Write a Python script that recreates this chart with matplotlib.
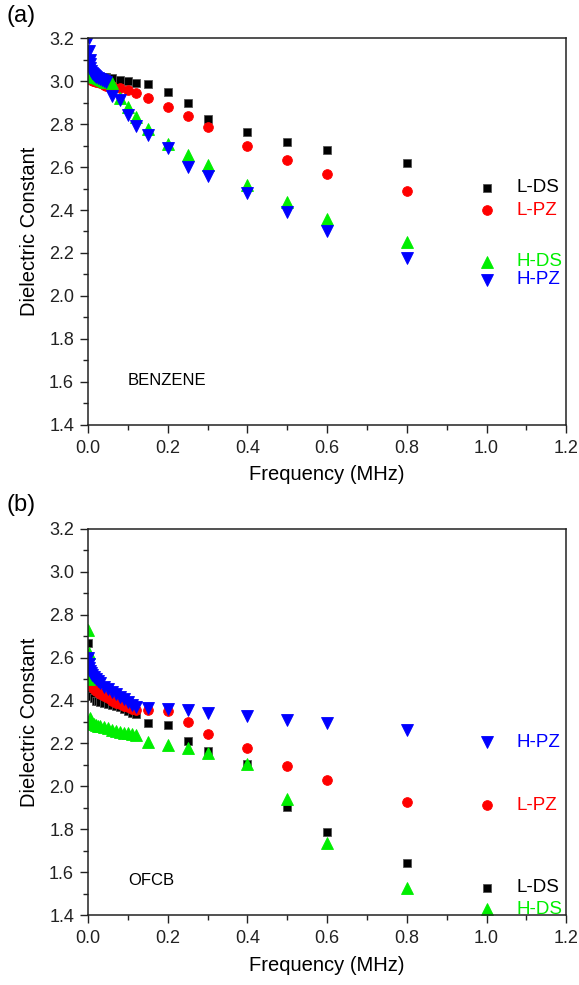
import matplotlib
matplotlib.use("Agg")
import matplotlib.pyplot as plt
from matplotlib.ticker import MultipleLocator

plt.rcParams['font.family'] = ['Liberation Sans', 'DejaVu Sans']

# ---------------- data: panel (a) BENZENE ----------------
f_low = [0.001, 0.002, 0.003, 0.004, 0.005, 0.006, 0.008, 0.010, 0.012, 0.015,
         0.018, 0.020, 0.025, 0.030, 0.035, 0.040, 0.045]
f_high = [0.06, 0.08, 0.10, 0.12, 0.15, 0.20, 0.25, 0.30, 0.40, 0.50, 0.60, 0.80, 1.00]

a_LDS_low = [3.05, 3.045, 3.04, 3.04, 3.035, 3.035, 3.03, 3.03, 3.03, 3.025,
             3.025, 3.025, 3.02, 3.02, 3.02, 3.02, 3.02]
a_LDS = [3.015, 3.008, 3.00, 2.994, 2.986, 2.95, 2.90, 2.823, 2.766, 2.717, 2.679, 2.617, 2.505]

a_LPZ_low = [3.02, 3.015, 3.015, 3.01, 3.01, 3.01, 3.005, 3.005, 3.00, 3.00,
             3.00, 2.995, 2.995, 2.99, 2.99, 2.985, 2.98]
a_LPZ = [2.98, 2.97, 2.958, 2.946, 2.92, 2.882, 2.836, 2.786, 2.70, 2.634, 2.567, 2.49, 2.40]

a_HDS_low = [3.10, 3.07, 3.06, 3.05, 3.045, 3.04, 3.035, 3.03, 3.03, 3.025,
             3.02, 3.02, 3.015, 3.01, 3.005, 3.00, 2.995]
a_HDS = [2.99, 2.92, 2.878, 2.834, 2.78, 2.71, 2.656, 2.61, 2.516, 2.436, 2.358, 2.253, 2.16]

a_HPZ_low = [3.30, 3.20, 3.14, 3.10, 3.08, 3.06, 3.05, 3.04, 3.035, 3.03,
             3.025, 3.02, 3.015, 3.01, 3.005, 3.00, 2.995]
a_HPZ = [2.93, 2.912, 2.842, 2.79, 2.749, 2.687, 2.601, 2.56, 2.478, 2.392, 2.30, 2.178, 2.075]

# ---------------- data: panel (b) OFCB ----------------
b_f = [0.001, 0.002, 0.003, 0.005, 0.008, 0.010, 0.015, 0.020, 0.025, 0.030,
       0.040, 0.050, 0.060, 0.070, 0.080, 0.090, 0.10, 0.11, 0.12,
       0.15, 0.20, 0.25, 0.30, 0.40, 0.50, 0.60, 0.80, 1.00]

b_LDS = [2.67, 2.45, 2.44, 2.43, 2.42, 2.42, 2.41, 2.40, 2.40, 2.395,
         2.39, 2.385, 2.38, 2.375, 2.37, 2.36, 2.353, 2.34, 2.335,
         2.294, 2.284, 2.21, 2.167, 2.106, 1.904, 1.785, 1.645, 1.527]

b_LPZ = [2.50, 2.50, 2.49, 2.48, 2.47, 2.465, 2.455, 2.445, 2.44, 2.43,
         2.42, 2.41, 2.40, 2.39, 2.385, 2.375, 2.37, 2.36, 2.355,
         2.357, 2.353, 2.30, 2.245, 2.178, 2.097, 2.03, 1.927, 1.912]

b_HDS = [2.73, 2.62, 2.50, 2.32, 2.30, 2.295, 2.29, 2.285, 2.28, 2.28,
         2.275, 2.27, 2.265, 2.26, 2.255, 2.25, 2.25, 2.245, 2.24,
         2.205, 2.195, 2.18, 2.155, 2.102, 1.94, 1.736, 1.525, 1.427]

b_HPZ = [2.60, 2.57, 2.55, 2.54, 2.53, 2.52, 2.51, 2.50, 2.49, 2.48,
         2.465, 2.455, 2.44, 2.43, 2.415, 2.405, 2.392, 2.38, 2.372,
         2.366, 2.36, 2.357, 2.343, 2.326, 2.31, 2.294, 2.264, 2.206]

series_names = ['L-DS', 'L-PZ', 'H-DS', 'H-PZ']
colors = {'L-DS': 'black', 'L-PZ': '#ff0000', 'H-DS': '#00ee00', 'H-PZ': '#0000ff'}
markers = {'L-DS': 's', 'L-PZ': 'o', 'H-DS': '^', 'H-PZ': 'v'}
msizes = {'L-DS': 5.5, 'L-PZ': 7.0, 'H-DS': 8.0, 'H-PZ': 8.0}

fig = plt.figure(figsize=(5.79, 9.85), dpi=100)
ax1 = fig.add_axes([0.152, 0.569, 0.826, 0.392])
ax2 = fig.add_axes([0.152, 0.071, 0.826, 0.392])

def style_axes(ax):
    ax.set_xlim(0, 1.2)
    ax.set_ylim(1.4, 3.2)
    ax.xaxis.set_major_locator(MultipleLocator(0.2))
    ax.xaxis.set_minor_locator(MultipleLocator(0.1))
    ax.yaxis.set_major_locator(MultipleLocator(0.2))
    ax.yaxis.set_minor_locator(MultipleLocator(0.1))
    ax.xaxis.set_major_formatter(plt.FuncFormatter(lambda v, p: f"{v:.1f}"))
    ax.yaxis.set_major_formatter(plt.FuncFormatter(lambda v, p: f"{v:.1f}"))
    ax.tick_params(which='major', direction='out', length=6, width=1.0, labelsize=13,
                   top=False, right=False, colors='#222222', pad=4)
    ax.tick_params(which='minor', direction='out', length=3.5, width=1.0,
                   top=False, right=False, colors='#222222')
    ax.tick_params(axis='x', which='major', pad=5)
    for s in ax.spines.values():
        s.set_linewidth(1.1)
        s.set_color('#222222')
    ax.set_xlabel('Frequency (MHz)', fontsize=14.5, labelpad=6)
    ax.set_ylabel('Dielectric Constant', fontsize=14.5, labelpad=7)

def draw(ax, x, y, name):
    ec = '#555555' if name == 'L-DS' else colors[name]
    ax.plot(x, y, linestyle='none', marker=markers[name], ms=msizes[name],
            color=colors[name], mec=ec, mew=0.6, clip_on=True)

# panel (a)
a_low = {'L-DS': a_LDS_low, 'L-PZ': a_LPZ_low, 'H-DS': a_HDS_low, 'H-PZ': a_HPZ_low}
a_hi = {'L-DS': a_LDS, 'L-PZ': a_LPZ, 'H-DS': a_HDS, 'H-PZ': a_HPZ}
for name in series_names:
    draw(ax1, f_low + f_high, a_low[name] + a_hi[name], name)
for name in series_names:
    ax1.text(1.075, a_hi[name][-1], name, color=colors[name], fontsize=13.5,
             va='center', ha='left')
ax1.text(0.1, 1.605, 'BENZENE', fontsize=12, va='center', ha='left')
style_axes(ax1)

# panel (b)
b_vals = {'L-DS': b_LDS, 'L-PZ': b_LPZ, 'H-DS': b_HDS, 'H-PZ': b_HPZ}
for name in series_names:
    draw(ax2, b_f, b_vals[name], name)
for name in series_names:
    ax2.text(1.075, b_vals[name][-1], name, color=colors[name], fontsize=13.5,
             va='center', ha='left')
ax2.text(0.1, 1.563, 'OFCB', fontsize=12, va='center', ha='left')
style_axes(ax2)

fig.text(0.012, 0.984, '(a)', fontsize=17, va='center', ha='left')
fig.text(0.012, 0.487, '(b)', fontsize=17, va='center', ha='left')

fig.savefig('out.png', dpi=100, facecolor='white')
